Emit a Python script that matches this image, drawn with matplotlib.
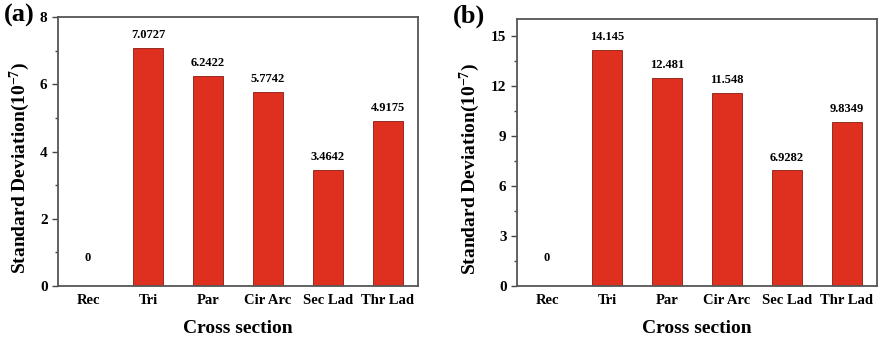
import matplotlib.pyplot as plt
from matplotlib.ticker import MultipleLocator

categories = ["Rec", "Tri", "Par", "Cir Arc", "Sec Lad", "Thr Lad"]
values_a = [0, 7.0727, 6.2422, 5.7742, 3.4642, 4.9175]
labels_a = ["0", "7.0727", "6.2422", "5.7742", "3.4642", "4.9175"]
values_b = [0, 14.145, 12.481, 11.548, 6.9282, 9.8349]
labels_b = ["0", "14.145", "12.481", "11.548", "6.9282", "9.8349"]

plt.rcParams['font.family'] = ['Liberation Serif', 'DejaVu Serif']
plt.rcParams['font.weight'] = 'bold'
plt.rcParams['mathtext.fontset'] = 'custom'
plt.rcParams['mathtext.rm'] = 'Liberation Serif:bold'
plt.rcParams['mathtext.default'] = 'rm'

fig = plt.figure(figsize=(8.8, 3.39), dpi=100)
ax_a = fig.add_axes([0.0659, 0.156, 0.409, 0.794])
ax_b = fig.add_axes([0.5875, 0.156, 0.409, 0.788])


def draw_panel(ax, values, labels, ymax, major, minor, tag, tag_x, ylab_x):
    x = range(len(categories))
    ax.bar(x, values, width=0.5, color="#DE2F1F", edgecolor="#8a1a10", linewidth=0.6)
    for xi, v, s in zip(x, values, labels):
        # the zero label sits a bit higher in the original
        dy = 16 if v == 0 else 5
        ax.annotate(s, (xi, v), xytext=(0, dy), textcoords="offset points",
                    ha="center", va="bottom", fontsize=9, fontweight="bold")
    ax.set_xlim(-0.5, 5.5)
    ax.set_ylim(0, ymax)
    ax.set_xticks(list(x))
    ax.set_xticklabels(categories, fontsize=10.5, fontweight="bold")
    ax.tick_params(axis="x", length=0, pad=6)
    ax.yaxis.set_major_locator(MultipleLocator(major))
    ax.yaxis.set_minor_locator(MultipleLocator(minor))
    ax.tick_params(axis="y", which="major", length=4, width=1, labelsize=11, color="#444444")
    ax.tick_params(axis="y", which="minor", length=2.5, width=1, color="#444444")
    for lbl in ax.get_yticklabels():
        lbl.set_fontweight("bold")
    for sp in ax.spines.values():
        sp.set_color("#555555")
        sp.set_linewidth(1.3)
    ax.set_ylabel("Standard Deviation(10$^{-7}$)", fontsize=14, fontweight="bold")
    ax.yaxis.set_label_coords(ylab_x, 0.44)
    ax.set_xlabel("Cross section", fontsize=14, fontweight="bold", labelpad=9)
    fig.text(tag_x, 0.953, tag, fontsize=19, fontweight="bold", va="center")


draw_panel(ax_a, values_a, labels_a, 8, 2, 1, "(a)", 0.004, -0.072)
draw_panel(ax_b, values_b, labels_b, 16, 3, 1.5, "(b)", 0.515, -0.097)

fig.savefig("out.png", dpi=100)
